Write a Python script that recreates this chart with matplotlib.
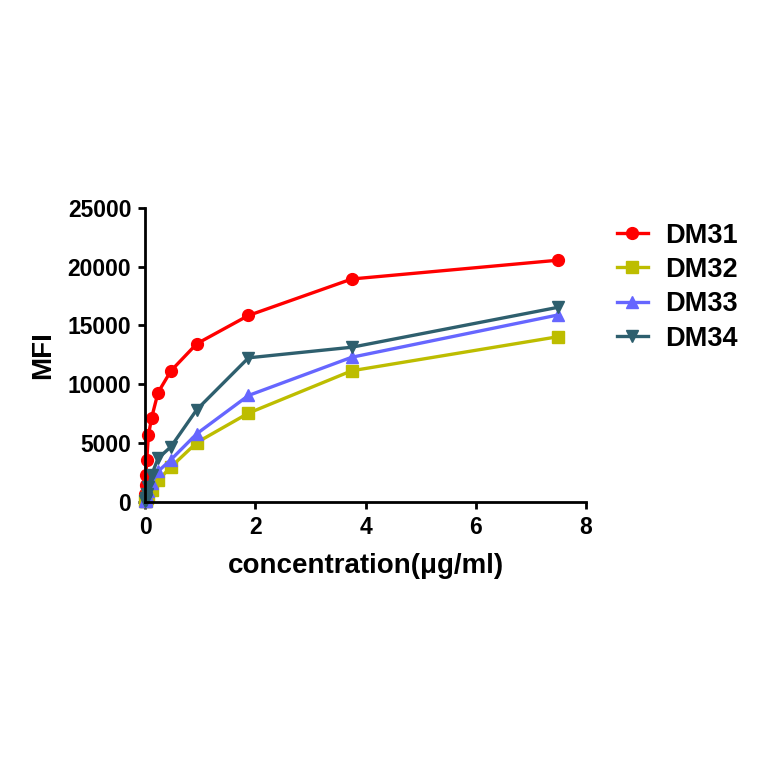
import matplotlib
matplotlib.use("Agg")
import matplotlib.pyplot as plt

plt.rcParams['font.family'] = ['Liberation Sans', 'DejaVu Sans']
plt.rcParams['font.weight'] = 'bold'

# concentrations (ug/ml), serial 2-fold dilution
conc = [7.5, 3.75, 1.875, 0.9375, 0.469, 0.234, 0.117, 0.0586, 0.0293, 0.0146, 0.0073, 0.0037]

dm31 = [20550, 18950, 15850, 13450, 11150, 9300, 7150, 5650, 3600, 2300, 1400, 700]
dm32 = [14050, 11150, 7550, 5050, 2980, 1850, 1050, 550, 300, 150, 80, 40]
dm33 = [15900, 12300, 9050, 5800, 3600, 2600, 1600, 900, 500, 250, 120, 60]
dm34 = [16550, 13150, 12250, 7850, 4700, 3700, 2300, 1300, 700, 350, 180, 90]

names = ["DM31", "DM32", "DM33", "DM34"]
colors = ["#FF0000", "#BDBD00", "#6666FF", "#2E5F6E"]
markers = ["o", "s", "^", "v"]

fig = plt.figure(figsize=(7.64, 7.64), dpi=100)
ax = fig.add_axes([0.19, 0.343, 0.577, 0.385])

for y, name, c, m in zip([dm31, dm32, dm33, dm34], names, colors, markers):
    ax.plot(conc, y, color=c, marker=m, markersize=8.5, linewidth=2.4,
            label=name, clip_on=False)

ax.set_xlim(0, 8)
ax.set_ylim(0, 25000)
ax.set_xticks([0, 2, 4, 6, 8])
ax.set_yticks([0, 5000, 10000, 15000, 20000, 25000])
ax.spines['top'].set_visible(False)
ax.spines['right'].set_visible(False)
for s in ['left', 'bottom']:
    ax.spines[s].set_linewidth(2)
ax.tick_params(width=2, length=5, labelsize=16.5, pad=5)
for lab in ax.get_xticklabels() + ax.get_yticklabels():
    lab.set_fontweight('bold')

ax.set_xlabel("concentration(μg/ml)", fontsize=20, fontweight='bold', labelpad=10)
ax.set_ylabel("MFI", fontsize=20, fontweight='bold', labelpad=8)

leg = ax.legend(loc='upper left', bbox_to_anchor=(1.07, 0.95), frameon=False,
                prop={'size': 19.5, 'weight': 'bold'}, handlelength=1.15,
                handletextpad=0.65, labelspacing=0.31, borderpad=0,
                borderaxespad=0)

fig.savefig("out.png", dpi=100)
